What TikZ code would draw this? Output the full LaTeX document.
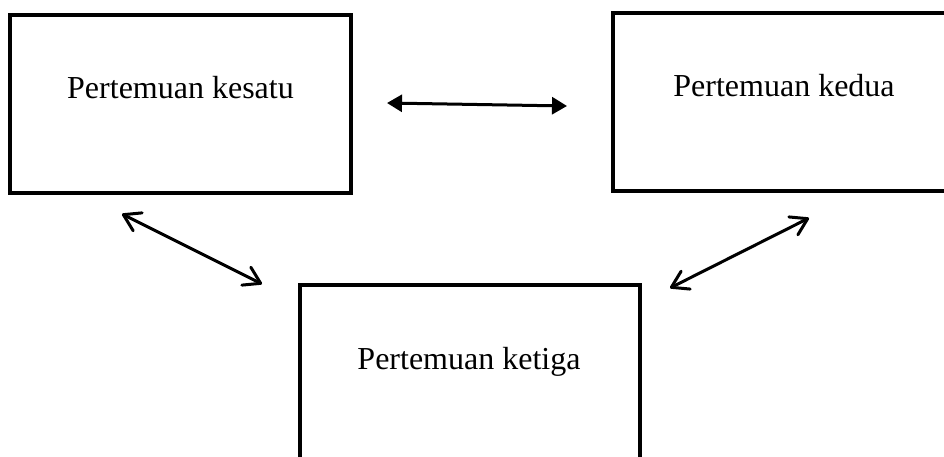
\documentclass[tikz,border=0pt]{standalone}
\usepackage{fontspec}
\setmainfont{Liberation Serif}
\usetikzlibrary{arrows.meta}
\begin{document}
\begin{tikzpicture}[x=1pt,y=-1pt,
  box/.style={draw=black,line width=4pt,rectangle,inner sep=0pt},
  caption/.style={anchor=base,inner sep=0pt,font=\fontsize{32}{38}\selectfont},
  solidlink/.style={line width=3pt,{Triangle[length=15pt,width=17pt]}-{Triangle[length=15pt,width=17pt]}},
  openlink/.style={line width=3pt,line cap=round,
    {Straight Barb[length=16pt,width=20pt,line cap=round,line join=round]}-{Straight Barb[length=16pt,width=20pt,line cap=round,line join=round]}}
]
\useasboundingbox (0,0) rectangle (944,457);
\clip (0,0) rectangle (944,457);
\fill[white] (0,0) rectangle (944,457);

% the three meetings
\node[box,minimum width=341pt,minimum height=178pt] (b1) at (180.5,104) {};
\node[box,minimum width=342pt,minimum height=178pt] (b2) at (784,102) {};
\node[box,minimum width=340pt,minimum height=240pt] (b3) at (470,405) {};

\node[caption] (t1) at (180.5,99) {Pertemuan kesatu};
\node[caption] (t2) at (784,97) {Pertemuan kedua};
\node[caption] (t3) at (469,369) {Pertemuan ketiga};

% arrow end points
\coordinate (h1) at (387,103);
\coordinate (h2) at (567,106);
\coordinate (l1) at (122,214);
\coordinate (l2) at (262,284);
\coordinate (r1) at (809,218);
\coordinate (r2) at (670,288);

\draw[solidlink] (h1) -- (h2);
\draw[openlink] (l1) -- (l2);
\draw[openlink] (r1) -- (r2);
\end{tikzpicture}
\end{document}
